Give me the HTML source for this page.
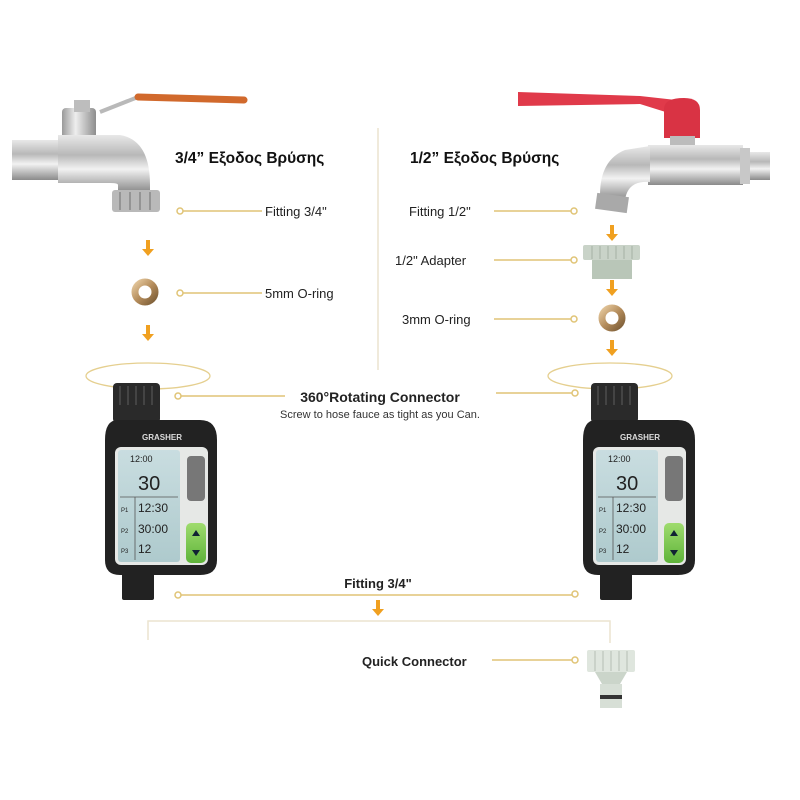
<!DOCTYPE html>
<html><head><meta charset="utf-8"><style>
html,body{margin:0;padding:0;background:#fff;width:800px;height:800px;overflow:hidden}
text{font-family:"Liberation Sans","DejaVu Sans",sans-serif}
</style></head><body>
<svg width="800" height="800" viewBox="0 0 800 800" xmlns="http://www.w3.org/2000/svg">
<defs>
<linearGradient id="chrome" x1="0" y1="0" x2="0" y2="1">
<stop offset="0" stop-color="#e8e8e8"/><stop offset=".35" stop-color="#b8b8b8"/><stop offset=".6" stop-color="#f2f2f2"/><stop offset="1" stop-color="#8a8a8a"/></linearGradient>
<linearGradient id="chromeV" x1="0" y1="0" x2="1" y2="0">
<stop offset="0" stop-color="#9a9a9a"/><stop offset=".4" stop-color="#eeeeee"/><stop offset="1" stop-color="#8d8d8d"/></linearGradient>
<linearGradient id="lcd" x1="0" y1="0" x2="0" y2="1"><stop offset="0" stop-color="#c9dde0"/><stop offset="1" stop-color="#aecacd"/></linearGradient>
<linearGradient id="green" x1="0" y1="0" x2="0" y2="1"><stop offset="0" stop-color="#9fdc6e"/><stop offset="1" stop-color="#5fb43a"/></linearGradient>
<linearGradient id="brass" x1="0" y1="0" x2="1" y2="1"><stop offset="0" stop-color="#e4c79c"/><stop offset=".5" stop-color="#b58d5c"/><stop offset="1" stop-color="#7d5e38"/></linearGradient>
<g id="ar"><rect x="-2" y="0" width="4" height="10"/><path d="M-6 9 L6 9 L0 16 Z"/></g>
</defs>

<!-- divider -->
<line x1="378" y1="128" x2="378" y2="370" stroke="#ece4cf" stroke-width="1.5"/>

<!-- LEFT TAP -->
<line x1="100" y1="112" x2="138" y2="97" stroke="#b9b9b9" stroke-width="4"/>
<line x1="138" y1="97" x2="244" y2="100" stroke="#d1692c" stroke-width="7" stroke-linecap="round"/>
<rect x="12" y="140" width="50" height="40" fill="url(#chrome)"/>
<rect x="62" y="108" width="34" height="34" rx="4" fill="url(#chromeV)"/>
<rect x="74" y="100" width="16" height="12" fill="#bdbdbd"/>
<path d="M58 135 H120 Q150 140 150 185 L150 192 H118 L118 185 Q118 183 110 183 H58 Z" fill="url(#chrome)"/>
<rect x="112" y="190" width="48" height="22" rx="3" fill="#b9b9b9"/>
<g stroke="#888" stroke-width="1.5"><line x1="120" y1="192" x2="120" y2="210"/><line x1="130" y1="192" x2="130" y2="210"/><line x1="140" y1="192" x2="140" y2="210"/><line x1="150" y1="192" x2="150" y2="210"/></g>
<text x="175" y="163" font-size="15.5" font-weight="bold" fill="#111">3/4” Εξοδος Βρύσης</text>

<!-- RIGHT TAP -->
<path d="M518 92 L518 106 L640 104 L672 114 L676 100 L640 96 Z" fill="#e03a4a"/>
<path d="M664 108 Q665 98 684 98 Q700 98 700 110 L700 138 L664 138 Z" fill="#d93344"/>
<rect x="670" y="136" width="25" height="10" fill="#bcbcbc"/>
<rect x="648" y="145" width="95" height="40" fill="url(#chrome)"/>
<rect x="740" y="148" width="10" height="36" fill="#c8c8c8"/>
<rect x="750" y="152" width="20" height="28" fill="url(#chrome)"/>
<path d="M650 146 L625 150 Q600 160 600 195 L625 200 Q628 180 650 182 Z" fill="url(#chrome)"/>
<rect x="596" y="195" width="32" height="16" fill="#a9a9a9" transform="rotate(8 612 203)"/>
<text x="410" y="163" font-size="15.5" font-weight="bold" fill="#111">1/2” Εξοδος Βρύσης</text>

<!-- leaders -->
<g stroke="#e0c476" stroke-width="1.5" fill="#fff">
<line x1="182" y1="211" x2="262" y2="211"/><circle cx="180" cy="211" r="3"/>
<line x1="182" y1="293" x2="262" y2="293"/><circle cx="180" cy="293" r="3"/>
<line x1="494" y1="211" x2="571" y2="211"/><circle cx="574" cy="211" r="3"/>
<line x1="494" y1="260" x2="571" y2="260"/><circle cx="574" cy="260" r="3"/>
<line x1="494" y1="319" x2="571" y2="319"/><circle cx="574" cy="319" r="3"/>
<line x1="181" y1="396" x2="285" y2="396"/><circle cx="178" cy="396" r="3"/>
<line x1="496" y1="393" x2="572" y2="393"/><circle cx="575" cy="393" r="3"/>
<line x1="181" y1="595" x2="572" y2="595"/><circle cx="178" cy="595" r="3"/><circle cx="575" cy="594" r="3"/>
<line x1="492" y1="660" x2="572" y2="660"/><circle cx="575" cy="660" r="3"/>
<polyline points="148,640 148,621 610,621 610,643" fill="none" stroke="#ece4cf"/>
</g>
<g font-size="13" fill="#222">
<text x="265" y="216">Fitting 3/4"</text>
<text x="265" y="298">5mm O-ring</text>
<text x="409" y="216">Fitting 1/2"</text>
<text x="395" y="265">1/2" Adapter</text>
<text x="402" y="324">3mm O-ring</text>
</g>

<!-- arrows -->
<g fill="#f0a020">
<use href="#ar" x="148" y="240"/><use href="#ar" x="148" y="325"/>
<use href="#ar" x="612" y="225"/><use href="#ar" x="612" y="280"/><use href="#ar" x="612" y="340"/>
<use href="#ar" x="378" y="600"/>
</g>

<!-- O-rings -->
<circle cx="145" cy="292" r="10" fill="none" stroke="url(#brass)" stroke-width="7"/>
<circle cx="612" cy="318" r="10" fill="none" stroke="url(#brass)" stroke-width="7"/>

<!-- adapter -->
<rect x="583" y="245" width="57" height="15" rx="2" fill="#c9d3c8"/>
<g stroke="#a5b0a4"><line x1="592" y1="246" x2="592" y2="259"/><line x1="600" y1="246" x2="600" y2="259"/><line x1="608" y1="246" x2="608" y2="259"/><line x1="616" y1="246" x2="616" y2="259"/><line x1="624" y1="246" x2="624" y2="259"/><line x1="632" y1="246" x2="632" y2="259"/></g>
<rect x="592" y="260" width="40" height="19" fill="#b9c6b8"/>

<!-- rotation ellipses -->
<g fill="none" stroke="#e5cf8f" stroke-width="1.3">
<ellipse cx="148" cy="376" rx="62" ry="13"/>
<ellipse cx="610" cy="376" rx="62" ry="13"/>
</g>

<!-- timers -->
<g id="timer">
<rect x="113" y="383" width="47" height="40" rx="4" fill="#2a2a2a"/>
<g stroke="#444" stroke-width="2"><line x1="120" y1="386" x2="120" y2="405"/><line x1="128" y1="386" x2="128" y2="405"/><line x1="136" y1="386" x2="136" y2="405"/><line x1="144" y1="386" x2="144" y2="405"/><line x1="152" y1="386" x2="152" y2="405"/></g>
<path d="M118 420 H200 Q217 420 217 440 V560 Q217 575 200 575 H120 Q105 575 105 560 V440 Q105 420 118 420 Z" fill="#222"/>
<text x="142" y="440" font-size="8" font-weight="bold" fill="#ddd">GRASHER</text>
<rect x="115" y="447" width="93" height="118" rx="6" fill="#e6e8e6"/>
<rect x="118" y="450" width="62" height="112" rx="3" fill="url(#lcd)"/>
<rect x="187" y="456" width="18" height="45" rx="4" fill="#777"/>
<rect x="186" y="523" width="20" height="40" rx="5" fill="url(#green)"/>
<path d="M196 530 l-4 6 h8z M196 556 l-4 -6 h8z" fill="#123"/>
<g fill="#222" font-family="Liberation Mono,monospace">
<text x="130" y="462" font-size="9">12:00</text>
<text x="138" y="490" font-size="20">30</text>
<text x="138" y="512" font-size="12">12:30</text>
<text x="138" y="533" font-size="12">30:00</text>
<text x="138" y="553" font-size="12">12</text>
<text x="121" y="512" font-size="6">P1</text><text x="121" y="533" font-size="6">P2</text><text x="121" y="553" font-size="6">P3</text>
</g>
<line x1="135" y1="497" x2="135" y2="560" stroke="#555" stroke-width=".8"/>
<line x1="120" y1="497" x2="178" y2="497" stroke="#555" stroke-width=".8"/>
<rect x="122" y="573" width="32" height="27" rx="2" fill="#222"/>
</g>
<use href="#timer" x="478" y="0"/>

<!-- center texts -->
<text x="380" y="402" font-size="14" font-weight="bold" fill="#222" text-anchor="middle">360°Rotating Connector</text>
<text x="380" y="418" font-size="11" fill="#333" text-anchor="middle">Screw to hose fauce as tight as you Can.</text>
<text x="378" y="588" font-size="13" font-weight="bold" fill="#222" text-anchor="middle">Fitting 3/4"</text>
<text x="362" y="666" font-size="13" font-weight="bold" fill="#222">Quick Connector</text>

<!-- quick connector -->
<rect x="587" y="650" width="48" height="22" rx="2" fill="#dfe6de"/>
<g stroke="#b5beb4"><line x1="595" y1="651" x2="595" y2="671"/><line x1="603" y1="651" x2="603" y2="671"/><line x1="611" y1="651" x2="611" y2="671"/><line x1="619" y1="651" x2="619" y2="671"/><line x1="627" y1="651" x2="627" y2="671"/></g>
<path d="M595 672 H627 L620 684 H602 Z" fill="#cbd5ca"/>
<rect x="600" y="684" width="22" height="24" fill="#d7dfd6"/>
<rect x="600" y="695" width="22" height="4" fill="#333"/>
</svg>
</body></html>
